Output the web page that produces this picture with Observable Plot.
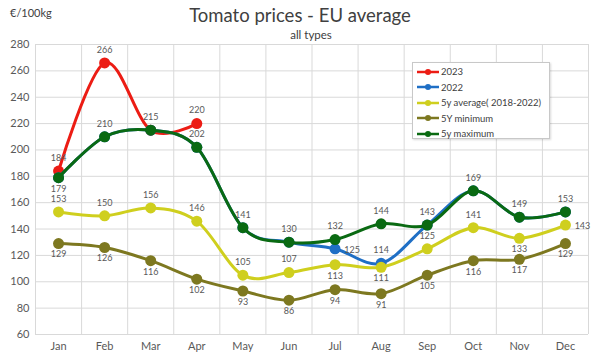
<!DOCTYPE html>
<html>
<head>
<meta charset="utf-8">
<script src="https://cdn.jsdelivr.net/npm/d3@7"></script>
<script src="https://cdn.jsdelivr.net/npm/@observablehq/plot@0.6"></script>
<style>
  body { margin: 0; background: #fff; font-family: Lato, "Open Sans", sans-serif; }
  #wrap { position: relative; width: 600px; height: 356px; }
  #title { position: absolute; left: 0; width: 600px; top: 4px; text-align: center; font-size: 18.5px; color: #404040; }
  #subtitle { position: absolute; left: 0; width: 622px; top: 28px; text-align: center; font-size: 11.5px; color: #404040; }
  #unit { position: absolute; left: 10px; top: 6px; font-size: 11px; color: #404040; }
  #legend { position: absolute; left: 412px; top: 62px; width: 138px; height: 77px; border: 1px solid #c8c8c8; background: #fff; box-shadow: 1px 1px 2px rgba(0,0,0,0.15); box-sizing: border-box; padding-top: 1px; }
  .li { display: flex; align-items: center; height: 15.5px; font-size: 9.5px; color: #404040; }
  .li svg { margin-left: 4px; margin-right: 2px; }
</style>
</head>
<body>
<div id="wrap">
  <div id="chart"></div>
  <div id="unit">€/100kg</div>
  <div id="title">Tomato prices - EU average</div>
  <div id="subtitle">all types</div>
  <div id="legend"></div>
</div>
<script>
const months = ["Jan","Feb","Mar","Apr","May","Jun","Jul","Aug","Sep","Oct","Nov","Dec"];
const yTicks = [60,80,100,120,140,160,180,200,220,240,260,280];

const seriesNames = ["2023","2022","5y average( 2018-2022)","5Y minimum","5y maximum"];
const seriesColors = ["#ec1c14","#1f6fc5","#cfcf1e","#7d7820","#0a6a12"];

const v2023 = [184,266,215,220];
const v2022 = [179,210,215,202,141,130,125,114,143,169,149,153];
const vAvg  = [153,150,156,146,105,107,113,111,125,141,133,143];
const vMin  = [129,126,116,102,93,86,94,91,105,116,117,129];
const vMax  = [179,210,215,202,141,130,132,144,143,169,149,153];

// label placement: a = above, b = below, r = right, "" = none
const lab2023 = ["a","a","","a"];
const lab2022 = ["","","","","","","r","a","","","",""];
const labAvg  = ["a","a","a","a","a","a","b","b","a","a","b","r"];
const labMin  = ["b","b","b","b","b","b","b","b","b","b","b","b"];
const labMax  = ["b","a","a","a","a","a","a","a","a","a","a","a"];

const allValues = [v2023, v2022, vAvg, vMin, vMax];
const allLabels = [lab2023, lab2022, labAvg, labMin, labMax];

const rows = [];
allValues.forEach((vals, s) => {
  vals.forEach((v, i) => rows.push({s, name: seriesNames[s], i, v, pos: allLabels[s][i]}));
});

const marks = [
  Plot.ruleY(yTicks, {stroke: "#d9d9d9", strokeWidth: 1}),
  Plot.ruleX(d3.range(-0.5, months.length, 1), {stroke: "#d9d9d9", strokeWidth: 1}),
];
seriesNames.forEach((n, s) => {
  const d = rows.filter(r => r.s === s);
  marks.push(Plot.line(d, {x: "i", y: "v", stroke: seriesColors[s], strokeWidth: 3, curve: "cardinal"}));
  marks.push(Plot.dot(d, {x: "i", y: "v", r: 5.5, fill: seriesColors[s], stroke: "none"}));
});
const txt = {x: "i", y: "v", text: d => String(d.v), fill: "#595959", fontSize: 9};
marks.push(Plot.text(rows.filter(r => r.pos === "a"), {...txt, dy: -13}));
marks.push(Plot.text(rows.filter(r => r.pos === "b"), {...txt, dy: 11}));
marks.push(Plot.text(rows.filter(r => r.pos === "r"), {...txt, dx: 17, dy: 1}));

marks.push(Plot.axisY({ticks: yTicks, tickSize: 0, tickPadding: 6, fontSize: 11, fill: "#595959", label: null}));
marks.push(Plot.axisX({ticks: d3.range(months.length), tickFormat: i => months[i], tickSize: 0, tickPadding: 8, fontSize: 11, fill: "#595959", label: null}));

const chart = Plot.plot({
  width: 600,
  height: 356,
  marginTop: 44,
  marginBottom: 22,
  marginLeft: 35,
  marginRight: 12,
  style: {fontFamily: "Lato, 'Open Sans', sans-serif", background: "#fff", overflow: "visible"},
  x: {domain: [-0.5, months.length - 0.5], axis: null, label: null},
  y: {domain: [60, 280], axis: null, label: null},
  marks
});
document.getElementById("chart").appendChild(chart);

const legend = document.getElementById("legend");
seriesNames.forEach((n, s) => {
  const div = document.createElement("div");
  div.className = "li";
  div.innerHTML = `<svg width="22" height="8"><line x1="0" x2="22" y1="4" y2="4" stroke="${seriesColors[s]}" stroke-width="2.5"/><circle cx="11" cy="4" r="3" fill="${seriesColors[s]}"/></svg><span>${n}</span>`;
  legend.appendChild(div);
});
</script>
</body>
</html>
